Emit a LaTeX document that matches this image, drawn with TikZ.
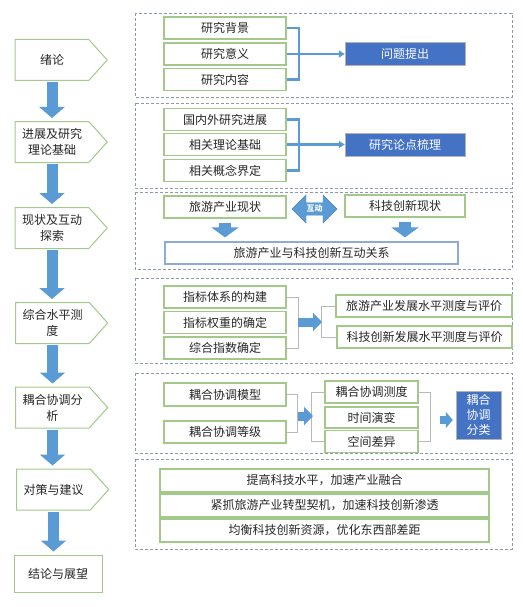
\documentclass[tikz,border=0pt]{standalone}
\usepackage{fontspec}
\setmainfont{Noto Sans CJK SC}
\usepackage{tikz}
\usetikzlibrary{shapes.symbols,shapes.arrows}
\usetikzlibrary{arrows.meta,positioning}
\definecolor{bdgreen}{HTML}{A3C98A}
\definecolor{arrblue}{HTML}{5B9BD5}
\definecolor{boxblue}{HTML}{4472C4}
\definecolor{dashgray}{HTML}{8D9AAB}
\definecolor{txtgray}{HTML}{262626}
\definecolor{relblue}{HTML}{8EAADB}

\begin{document}
\begin{tikzpicture}[x=1pt,y=-1pt,
  every node/.style={font=\fontsize{12}{16}\selectfont,text=txtgray},
  stage/.style={signal,signal to=east,signal pointer angle=96,draw=bdgreen,line width=1pt,
    fill=white,minimum width=92pt,minimum height=41pt,align=center,inner sep=1pt},
  item/.style={draw=bdgreen,line width=1.2pt,minimum width=122pt,minimum height=22pt,inner sep=0pt},
  topic/.style={fill=boxblue,draw=gray!60,text=white,minimum width=120pt,minimum height=23pt,inner sep=0pt},
  frame/.style={draw=dashgray,line width=0.8pt,dash pattern=on 3pt off 2pt},
  flow/.style={draw=arrblue,line width=11pt,-{Triangle[length=11pt,width=25pt]},shorten <=1pt,shorten >=3pt},
  push/.style={draw=arrblue,line width=12pt,-{Triangle[length=10pt,width=27pt]},shorten <=4pt,shorten >=4pt},
  nudge/.style={draw=arrblue,line width=9pt,-{Triangle[length=9pt,width=18pt]}},
  brace/.style={draw=arrblue,line width=2.2pt},
  linkline/.style={draw=gray!55,line width=1pt}]
\useasboundingbox (0,0) rectangle (522,607);

  % left column
  \node[stage] (s1) at (52,60)    {绪论};
  \node[stage] (s2) at (52,142)   {进展及研究\\理论基础};
  \node[stage] (s3) at (52,228)   {现状及互动\\探索};
  \node[stage] (s4) at (52.5,323)   {综合水平测\\度};
  \node[stage] (s5) at (52.5,407.5) {耦合协调分\\析};
  \node[stage] (s6) at (53.5,489.5) {对策与建议};
  \node[draw=bdgreen,line width=1pt,minimum width=88pt,minimum height=37pt] (s7) at (58,573.5) {结论与展望};

  \draw[flow] (s1.south) -- (s1.south |- s2.north);
  \draw[flow] (s2.south) -- (s2.south |- s3.north);
  \draw[flow] (s3.south) -- (s3.south |- s4.north);
  \draw[flow] (s4.south) -- (s4.south |- s5.north);
  \draw[flow] (s5.south) -- (s5.south |- s6.north);
  \draw[flow] (s6.south) -- (s6.south |- s7.north);

  % dashed frames
  \draw[frame] (135,13)  rectangle (512,97);
  \draw[frame] (135,103) rectangle (512,188);
  \draw[frame] (135,192) rectangle (512,269);
  \draw[frame] (135,278) rectangle (512,363);
  \draw[frame] (135,373) rectangle (512,453);
  \draw[frame] (135,459) rectangle (512,549);

  % background
  \node[item] (b11) at (225,28)   {研究背景};
  \node[item] (b12) at (225,54)   {研究意义};
  \node[item] (b13) at (225,79.5) {研究内容};
  \node[topic] (q1) at (405,54)   {问题提出};
  \draw[brace] (b11.east) -- ++(12,0) |- (b13.east);
  \draw[brace,-{Triangle[length=6pt,width=7pt]}] (b12.east) -- (q1.west);

  % literature
  \node[item] (b21) at (225,119.5) {国内外研究进展};
  \node[item] (b22) at (225,144.5) {相关理论基础};
  \node[item] (b23) at (225,170.5) {相关概念界定};
  \node[topic] (q2) at (405,144.5) {研究论点梳理};
  \draw[brace] (b21.east) -- ++(12,0) |- (b23.east);
  \draw[brace,-{Triangle[length=6pt,width=7pt]}] (b22.east) -- (q2.west);

  % status and interaction
  \node[item] (c1) at (225,207) {旅游产业现状};
  \node[item,minimum width=120pt] (c2) at (405,206) {科技创新现状};
  \node[double arrow,fill=arrblue,draw=arrblue!85!black,minimum height=45pt,minimum width=28pt,
    double arrow head extend=7pt,inner sep=1.5pt,font=\fontsize{8}{8}\selectfont\bfseries,text=white]
    (hd) at (314.5,209) {互动};
  \node[item,draw=relblue,minimum width=293pt] (c3) at (311.5,253) {旅游产业与科技创新互动关系};
  \draw[push] (c1.south) -- (c1.south |- c3.north);
  \draw[push] (c2.south) -- (c2.south |- c3.north);

  % level measurement
  \node[item] (d1) at (225,297)   {指标体系的构建};
  \node[item] (d2) at (225,322.5) {指标权重的确定};
  \node[item] (d3) at (225,348)   {综合指数确定};
  \node[item,minimum width=176pt] (e1) at (424,306) {旅游产业发展水平测度与评价};
  \node[item,minimum width=175pt] (e2) at (424.5,337) {科技创新发展水平测度与评价};
  \coordinate (dj) at (298,322);
  \coordinate (ej) at (322,322);
  \draw[linkline] (d1.east) -- ++(12,0) |- (d3.east);
  \draw[linkline] (e1.west) -- ++(-14,0) |- (e2.west);
  \draw[nudge] (dj) -- (ej);

  % coupling
  \node[item,minimum height=23pt] (f1) at (225,394.5) {耦合协调模型};
  \node[item] (f2) at (225,432) {耦合协调等级};
  \node[item,minimum width=93pt] (g1) at (371.5,392)   {耦合协调测度};
  \node[item,minimum width=93pt,minimum height=21pt] (g2) at (371.5,417.5) {时间演变};
  \node[item,minimum width=93pt] (g3) at (371.5,441.5) {空间差异};
  \node[topic,minimum width=45pt,minimum height=48pt,align=center,font=\fontsize{12}{15}\selectfont]
    (h1) at (478.5,415) {耦合\\协调\\分类};
  \coordinate (fj) at (298,416);
  \coordinate (gj) at (313,416);
  \coordinate (gk) at (440,420);
  \draw[linkline] (f1.east) -- ++(11,0) |- (f2.east);
  \draw[linkline] (g1.west) -- ++(-13,0) |- (g3.west);
  \draw[linkline] (g1.east) -- ++(12,0) |- (g3.east);
  \draw[nudge] (fj) -- (gj);
  \draw[nudge,line width=8pt,-{Triangle[length=7pt,width=16pt]},shorten >=3pt] (gk) -- (gk -| h1.west);

  % suggestions
  \node[item,minimum width=329pt,minimum height=23pt] (m1) at (324.5,480.5) {提高科技水平，加速产业融合};
  \node[item,minimum width=329pt,minimum height=23pt] (m2) at (324.5,505.5) {紧抓旅游产业转型契机，加速科技创新渗透};
  \node[item,minimum width=329pt,minimum height=23pt] (m3) at (324.5,530.5) {均衡科技创新资源，优化东西部差距};
\end{tikzpicture}
\end{document}
